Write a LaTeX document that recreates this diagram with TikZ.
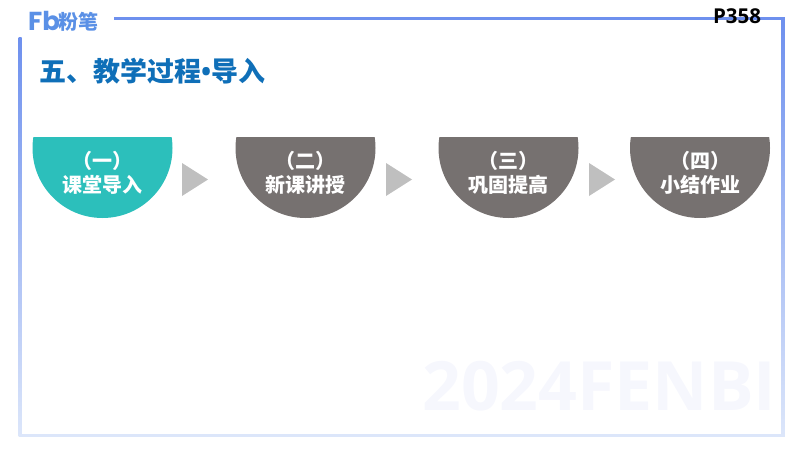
\documentclass[tikz,border=0pt]{standalone}
\usepackage{fontspec}
\setmainfont{Open Sans}
\newfontfamily\cjk{Noto Sans CJK SC}
\newfontfamily\logofont{Poppins}
\usetikzlibrary{positioning}
\definecolor{framecol}{HTML}{6E90EE}
\definecolor{framelow}{HTML}{DCE6FA}
\definecolor{titlecol}{HTML}{0F6FB8}
\definecolor{logocol}{HTML}{5A90E6}
\definecolor{tealcol}{HTML}{2CBFBB}
\definecolor{graycol}{HTML}{767170}
\definecolor{arrowcol}{HTML}{BFBFBF}
\definecolor{markcol}{HTML}{F6F7FD}
\tikzset{
  steplabel/.style={text=white,align=center,font=\cjk\bfseries\fontsize{20}{24}\selectfont,inner sep=0pt},
  stepgap/.style={fill=arrowcol,draw=none}
}
\begin{document}
\begin{tikzpicture}[x=1pt,y=-1pt]
    \useasboundingbox (0,0) rectangle (800,450);
    % watermark first, everything else sits on it
    \node (mark) [anchor=west,inner sep=0pt,text=markcol,font=\bfseries\fontsize{68}{68}\selectfont] at (422,386) {2024FENBI};
    % frame
    \fill[framecol] (114,17) rectangle (784.5,20);
    \shade[top color=framecol,bottom color=framelow] (781.5,17) rectangle (784.5,436);
    \shade[top color=framecol,bottom color=framelow] (18.5,37) rectangle (21.5,436);
    \fill[framelow] (18.5,433.5) rectangle (784.5,436.5);
    % logo and page number
    \node (fb) [anchor=west,inner sep=0pt,text=logocol,font=\logofont\bfseries\fontsize{26}{26}\selectfont] at (28,21) {Fb};
    \node (logo) [anchor=west,inner sep=0pt,text=logocol,font=\cjk\bfseries\fontsize{20}{20}\selectfont] at (58,22) {粉笔};
    \node (page) [anchor=center,inner sep=0pt,font=\bfseries\fontsize{20.5}{20.5}\selectfont] at (737,16) {P358};
    \node (title) [anchor=west,inner sep=0pt,text=titlecol,font=\cjk\bfseries\fontsize{27}{30}\selectfont] at (39,71) {五、教学过程{\rmfamily\bfseries •}导入};
    % the four caps
    \foreach \name/\cx/\col/\upper/\lower in {one/102.5/tealcol/一/课堂导入,two/305.5/graycol/二/新课讲授,three/508.5/graycol/三/巩固提高,four/700/graycol/四/小结作业}{
      \begin{scope}
        \clip (\cx-72,137) rectangle (\cx+72,222);
        \fill[\col] (\cx,148) circle[radius=70];
      \end{scope}
      \node (\name) [steplabel] at (\cx,173) {（\upper）\\\lower};
    }
    % gaps between the caps
    \foreach \gx in {182,386,589}{
      \fill[stepgap] (\gx,163) -- (\gx+26,179.5) -- (\gx,196) -- cycle;
    }
\end{tikzpicture}
\end{document}
